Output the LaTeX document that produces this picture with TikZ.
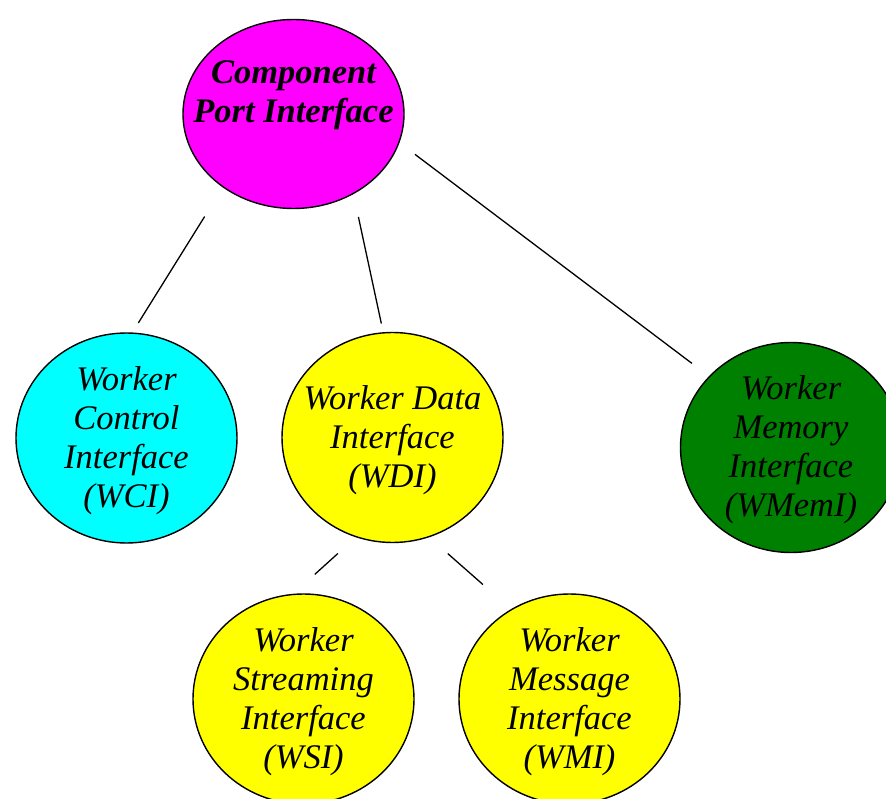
\documentclass[tikz,border=0pt]{standalone}
\usepackage{fontspec}
\setmainfont{Liberation Serif}
\usetikzlibrary{shapes.geometric}
\definecolor{cpimag}{RGB}{255,0,255}
\definecolor{wcicyan}{RGB}{0,255,255}
\definecolor{wdiyellow}{RGB}{255,255,0}
\definecolor{wmemgreen}{RGB}{0,128,0}
\begin{document}
\begin{tikzpicture}[x=1pt,y=-1pt,
  bubble/.style={ellipse, draw=black, line width=1.4pt, inner sep=0pt, outer sep=0pt,
    minimum width=221pt, minimum height=210pt},
  caption/.style={align=center, inner sep=0pt, yshift=-2.5pt,
    font=\fontsize{34.5}{39}\selectfont\itshape},
  title/.style={align=center, inner sep=0pt, font=\fontsize{34.5}{39}\selectfont\bfseries\itshape},
  link/.style={line width=1.3pt}]
\useasboundingbox (0,0) rectangle (886,799);

% root interface
\node[bubble, fill=cpimag, minimum height=189pt] (cpi) at (293.5,114) {};
\node[title] (cpitext) at (293.5,95) {Component\\Port Interface};

% second level
\node[bubble, fill=wcicyan] (wci) at (126.5,438) {};
\node[caption] (wcitext) at (wci.center) {Worker\\Control\\Interface\\(WCI)};
\node[bubble, fill=wdiyellow] (wdi) at (392.5,437.5) {};
\node[caption] (wditext) at (wdi.center) {Worker Data\\Interface\\(WDI)};
\node[bubble, fill=wmemgreen] (wmem) at (791,447.5) {};
\node[caption] (wmemtext) at (wmem.center) {Worker\\Memory\\Interface\\(WMemI)};

% third level
\node[bubble, fill=wdiyellow] (wsi) at (303.5,699) {};
\node[caption] (wsitext) at (wsi.center) {Worker\\Streaming\\Interface\\(WSI)};
\node[bubble, fill=wdiyellow] (wmi) at (569.5,699) {};
\node[caption] (wmitext) at (wmi.center) {Worker\\Message\\Interface\\(WMI)};

% connectors, stopping short of the bubbles
\draw[link, shorten <=35pt, shorten >=12pt] (cpi.226) -- (wci.87);
\draw[link, shorten <=24pt, shorten >=9.5pt] (cpi.307.6) -- (wdi.95);
\draw[link, shorten <=20pt, shorten >=22pt] (cpi.345.3) -- (wmem.139.1);
\draw[link, shorten <=25pt, shorten >=30pt] (wdi.250.5) -- (wsi.96.8);
\draw[link, shorten <=25.5pt, shorten >=38pt] (wdi.290.6) -- (wmi.123.4);
\end{tikzpicture}
\end{document}
